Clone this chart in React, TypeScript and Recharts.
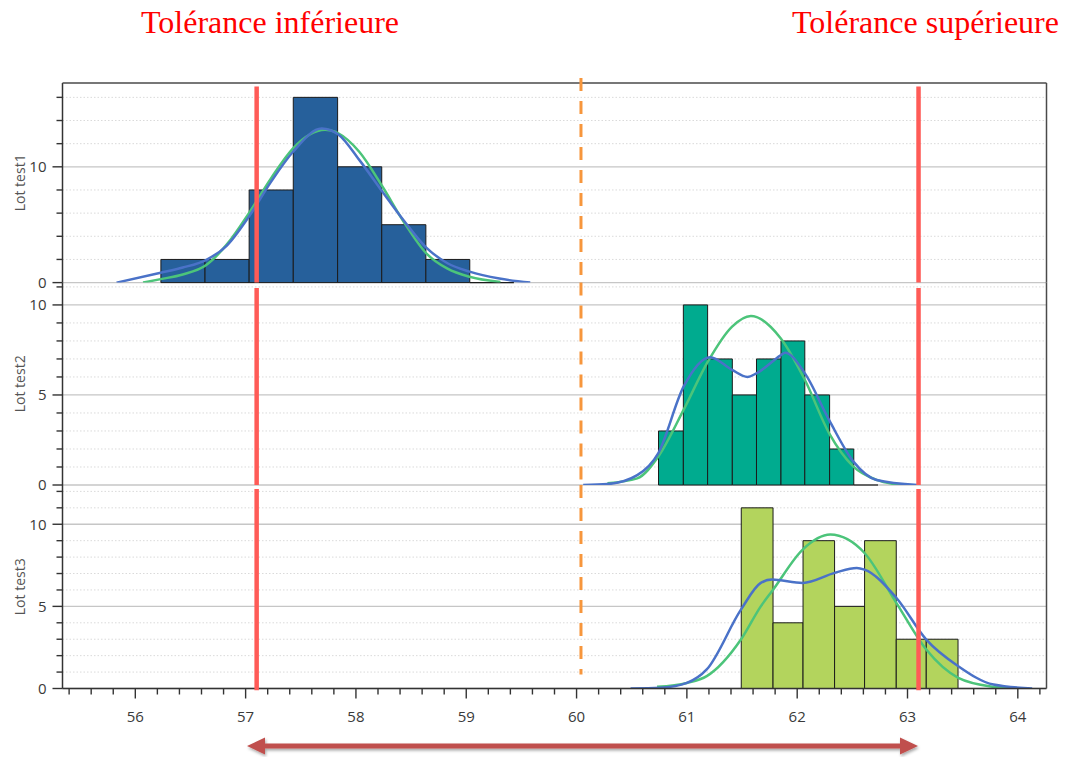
import React from 'react';
import { ComposedChart, XAxis, YAxis, Line, ReferenceArea, ReferenceLine } from 'recharts';

// ---- values ----
const lotNames = ['Lot test1', 'Lot test2', 'Lot test3'];

const xMajorTicks = [56, 57, 58, 59, 60, 61, 62, 63, 64];
const lowerTolerance = 57.1;
const upperTolerance = 63.1;
const nominal = 60.04;

// histogram bin edges + counts
const lot1Edges = [56.232, 56.632, 57.032, 57.432, 57.834, 58.234, 58.634, 59.032, 59.432];
const lot1Counts = [2, 2, 8, 16, 10, 5, 2, 0];
const lot2Edges = [60.743, 60.968, 61.188, 61.412, 61.631, 61.853, 62.069, 62.294, 62.513, 62.733];
const lot2Counts = [3, 10, 7, 5, 7, 8, 5, 2, 0];
const lot3Edges = [61.493, 61.781, 62.053, 62.339, 62.611, 62.898, 63.17, 63.458];
const lot3Counts = [11, 4, 9, 5, 9, 3, 3];

// fitted normal (green) and kernel density (blue) curves, [x, y]
const lot1Normal: [number, number][] = [
  [56.07, 0], [56.23, 0.3], [56.43, 0.7], [56.64, 1.5], [56.83, 3.3], [57.03, 6.0],
  [57.23, 9.0], [57.43, 11.6], [57.72, 13.2], [57.84, 12.9], [58.03, 11.3], [58.24, 8.3],
  [58.43, 5.3], [58.64, 2.5], [58.83, 1.2], [59.03, 0.5], [59.31, 0.05],
];
const lot1Kde: [number, number][] = [
  [55.83, 0], [56.23, 0.85], [56.43, 1.3], [56.64, 1.95], [56.83, 3.2], [57.03, 5.7],
  [57.23, 8.7], [57.43, 11.3], [57.69, 13.3], [57.84, 12.8], [58.03, 10.6], [58.24, 7.85],
  [58.43, 5.4], [58.64, 3.0], [58.83, 1.67], [59.03, 0.95], [59.3, 0.35], [59.58, 0],
];
const lot2Normal: [number, number][] = [
  [60.28, 0.1], [60.55, 0.37], [60.74, 1.57], [60.97, 4.17], [61.19, 6.85], [61.41, 8.8],
  [61.58, 9.39], [61.85, 8.15], [62.07, 5.83], [62.29, 2.87], [62.51, 1.02], [62.72, 0.28],
  [62.95, 0],
];
const lot2Kde: [number, number][] = [
  [60.06, 0], [60.28, 0.05], [60.55, 0.55], [60.74, 1.76], [60.97, 5.46], [61.21, 7.1],
  [61.41, 6.39], [61.55, 6.0], [61.63, 6.2], [61.85, 7.2], [61.89, 7.35], [62.07, 6.2],
  [62.29, 3.6], [62.51, 1.3], [62.72, 0.28], [63.09, 0],
];
const lot3Normal: [number, number][] = [
  [60.73, 0.1], [61.0, 0.34], [61.18, 0.75], [61.49, 2.98], [61.67, 5.0], [61.78, 6.0],
  [62.05, 8.46], [62.3, 9.37], [62.61, 8.25], [62.9, 5.2], [63.17, 2.37], [63.46, 0.65],
  [63.78, 0.1], [63.96, 0],
];
const lot3Kde: [number, number][] = [
  [60.49, 0], [60.76, 0.04], [61.0, 0.34], [61.18, 1.16], [61.49, 4.8], [61.67, 6.43],
  [61.77, 6.63], [62.05, 6.43], [62.34, 7.04], [62.54, 7.34], [62.61, 7.24], [62.9, 5.51],
  [63.17, 2.98], [63.46, 1.36], [63.78, 0.24], [64.13, 0],
];

const lot1YTicks = [0, 2, 4, 6, 8, 10, 12, 14, 16];
const lot2YTicks = [0, 1, 2, 3, 4, 5, 6, 7, 8, 9, 10, 11];
const lot3YTicks = [0, 1, 2, 3, 4, 5, 6, 7, 8, 9, 10, 11, 12];
const lot1YMajor = [0, 10];
const lot2YMajor = [0, 5, 10];
const lot3YMajor = [0, 5, 10];

// ---- layout ----
const W = 1067;
const X_DOMAIN: [number, number] = [55.34, 64.26];
const Y_AXIS_W = 62.5;
const RIGHT_GAP = 20.5;
const FONT = '"Open Sans", sans-serif';

const xTicks: number[] = [];
for (let i = 0; i <= 44; i++) xTicks.push(Math.round((55.4 + i * 0.2) * 10) / 10);

const toPts = (arr: [number, number][]) => arr.map(([x, y]) => ({ x, y }));

const panels = [
  {
    name: lotNames[0], edges: lot1Edges, counts: lot1Counts, normal: lot1Normal, kde: lot1Kde,
    yTicks: lot1YTicks, yMajor: lot1YMajor, yMax: 17.24, fill: '#26609b',
    top: 0, height: 300, mTop: 83, mBottom: 17.4, redTop: 16.94, redBottom: 0,
    dashTop: 17.67, dashBottom: 0, showX: false,
  },
  {
    name: lotNames[1], edges: lot2Edges, counts: lot2Counts, normal: lot2Normal, kde: lot2Kde,
    yTicks: lot2YTicks, yMajor: lot2YMajor, yMax: 11.24, fill: '#00ab8f',
    top: 262, height: 240, mTop: 20.6, mBottom: 17, redTop: 10.94, redBottom: 0,
    dashTop: 11.24, dashBottom: 0, showX: false,
  },
  {
    name: lotNames[2], edges: lot3Edges, counts: lot3Counts, normal: lot3Normal, kde: lot3Kde,
    yTicks: lot3YTicks, yMajor: lot3YMajor, yMax: 12.39, fill: '#b3d45d',
    top: 465, height: 292, mTop: 20, mBottom: 28.5, redTop: 12.15, redBottom: -0.1,
    dashTop: 12.39, dashBottom: 0.85, showX: true,
  },
];

const XTick = (props: any) => {
  const { x, y, payload } = props;
  const v = payload.value;
  const major = xMajorTicks.some((m) => Math.abs(m - v) < 1e-6);
  return (
    <g>
      <line x1={x} x2={x} y1={y} y2={y + (major ? 10 : 6)} stroke="#333" strokeWidth={1.4} />
      {major && (
        <text x={x} y={y + 33} textAnchor="middle" fontSize={15} fill="#3a3a3a" fontFamily={FONT}>
          {Math.round(v)}
        </text>
      )}
    </g>
  );
};

const makeYTick = (majors: number[]) => (props: any) => {
  const { x, y, payload } = props;
  const v = payload.value;
  const major = majors.includes(v);
  return (
    <g>
      <line x1={x - (major ? 10 : 6)} x2={x} y1={y} y2={y} stroke="#333" strokeWidth={1.4} />
      {major && (
        <text x={x - 16} y={y} dy="0.36em" textAnchor="end" fontSize={15} fill="#3a3a3a" fontFamily={FONT}>
          {v}
        </text>
      )}
    </g>
  );
};

function Panel({ p }: { p: (typeof panels)[number] }) {
  const plotH = p.height - p.mTop - p.mBottom - (p.showX ? 40 : 0);
  const cy = p.mTop + plotH / 2;
  return (
    <div style={{ position: 'absolute', left: 0, top: p.top }}>
      <ComposedChart
        width={W}
        height={p.height}
        margin={{ top: p.mTop, right: RIGHT_GAP, bottom: p.mBottom, left: 0 }}
      >
        <XAxis
          dataKey="x"
          type="number"
          domain={X_DOMAIN}
          allowDataOverflow
          ticks={xTicks}
          interval={0}
          hide={!p.showX}
          height={40}
          tickSize={0}
          tickMargin={0}
          tickLine={false}
          tick={XTick}
          axisLine={{ stroke: '#333', strokeWidth: 1.5 }}
        />
        <YAxis
          type="number"
          domain={[0, p.yMax]}
          allowDataOverflow
          ticks={p.yTicks}
          interval={0}
          width={Y_AXIS_W}
          tickSize={0}
          tickMargin={0}
          tickLine={false}
          tick={makeYTick(p.yMajor)}
          axisLine={{ stroke: '#333', strokeWidth: 1.5 }}
          label={{
            content: () => (
              <text
                x={19.5}
                y={cy}
                transform={`rotate(-90 19.5 ${cy})`}
                textAnchor="middle"
                dominantBaseline="central"
                fontSize={14}
                fill="#555"
                fontFamily={FONT}
              >
                {p.name}
              </text>
            ),
          }}
        />
        {p.yTicks.map((v) =>
          p.yMajor.includes(v) ? (
            <ReferenceLine key={'g' + v} y={v} stroke="#c6c6c6" strokeWidth={1.3} zIndex={-50} />
          ) : (
            <ReferenceLine key={'g' + v} y={v} stroke="#dadada" strokeDasharray="1.5 2" zIndex={-50} />
          )
        )}
        {p.counts.map((c, i) =>
          c > 0 ? (
            <ReferenceArea
              key={'b' + i}
              x1={p.edges[i]}
              x2={p.edges[i + 1]}
              y1={0}
              y2={c}
              fill={p.fill}
              fillOpacity={1}
              stroke="#1b1b1b"
              strokeWidth={1}
              zIndex={100}
            />
          ) : (
            <ReferenceLine
              key={'b' + i}
              segment={[{ x: p.edges[i], y: 0 }, { x: p.edges[i + 1], y: 0 }]}
              stroke="#1b1b1b"
              strokeWidth={1.2}
              zIndex={100}
            />
          )
        )}
        <Line
          data={toPts(p.normal)}
          dataKey="y"
          type="monotone"
          stroke="#4cc47a"
          strokeWidth={2.5}
          dot={false}
          activeDot={false}
          isAnimationActive={false}
        />
        <Line
          data={toPts(p.kde)}
          dataKey="y"
          type="monotone"
          stroke="#4a72c8"
          strokeWidth={2.5}
          dot={false}
          activeDot={false}
          isAnimationActive={false}
        />
        {p.name === lotNames[0] && (
          <ReferenceLine y={p.yMax} stroke="#4a4a4a" strokeWidth={1.5} zIndex={500} />
        )}
        <ReferenceLine x={X_DOMAIN[1]} stroke="#4a4a4a" strokeWidth={1.5} zIndex={500} />
        <ReferenceLine
          segment={[{ x: nominal, y: p.dashTop }, { x: nominal, y: p.dashBottom }]}
          stroke="#f7963c"
          strokeWidth={3}
          strokeDasharray="13 10"
          ifOverflow="visible"
          zIndex={600}
        />
        <ReferenceLine
          segment={[{ x: lowerTolerance, y: p.redBottom }, { x: lowerTolerance, y: p.redTop }]}
          stroke="#ff5b57"
          strokeWidth={4.5}
          ifOverflow="visible"
          zIndex={600}
        />
        <ReferenceLine
          segment={[{ x: upperTolerance, y: p.redBottom }, { x: upperTolerance, y: p.redTop }]}
          stroke="#ff5b57"
          strokeWidth={4.5}
          ifOverflow="visible"
          zIndex={600}
        />
      </ComposedChart>
    </div>
  );
}

export default function App() {
  return (
    <div
      style={{
        position: 'absolute',
        left: 0,
        top: 0,
        width: W,
        height: 757,
        background: '#fff',
        overflow: 'hidden',
      }}
    >
      {panels.map((p) => (
        <Panel key={p.name} p={p} />
      ))}
      <svg
        width={W}
        height={757}
        style={{ position: 'absolute', left: 0, top: 0, pointerEvents: 'none' }}
      >
        <defs>
          <filter id="arrowShadow" x="-5%" y="-80%" width="110%" height="260%">
            <feDropShadow dx="1" dy="2" stdDeviation="1.5" floodColor="#000" floodOpacity="0.35" />
          </filter>
        </defs>
        <text x={141} y={33} fontFamily='"Liberation Serif", "Times New Roman", serif' fontSize={32} fill="#ff0000">
          Tolérance inférieure
        </text>
        <text x={792} y={33} fontFamily='"Liberation Serif", "Times New Roman", serif' fontSize={32} fill="#ff0000">
          Tolérance supérieure
        </text>
        <path
          d="M247 746 L265 737.5 L265 743.5 L900 743.5 L900 737.5 L918 746 L900 754.5 L900 748.5 L265 748.5 L265 754.5 Z"
          fill="#c0504d"
          filter="url(#arrowShadow)"
        />
      </svg>
    </div>
  );
}
